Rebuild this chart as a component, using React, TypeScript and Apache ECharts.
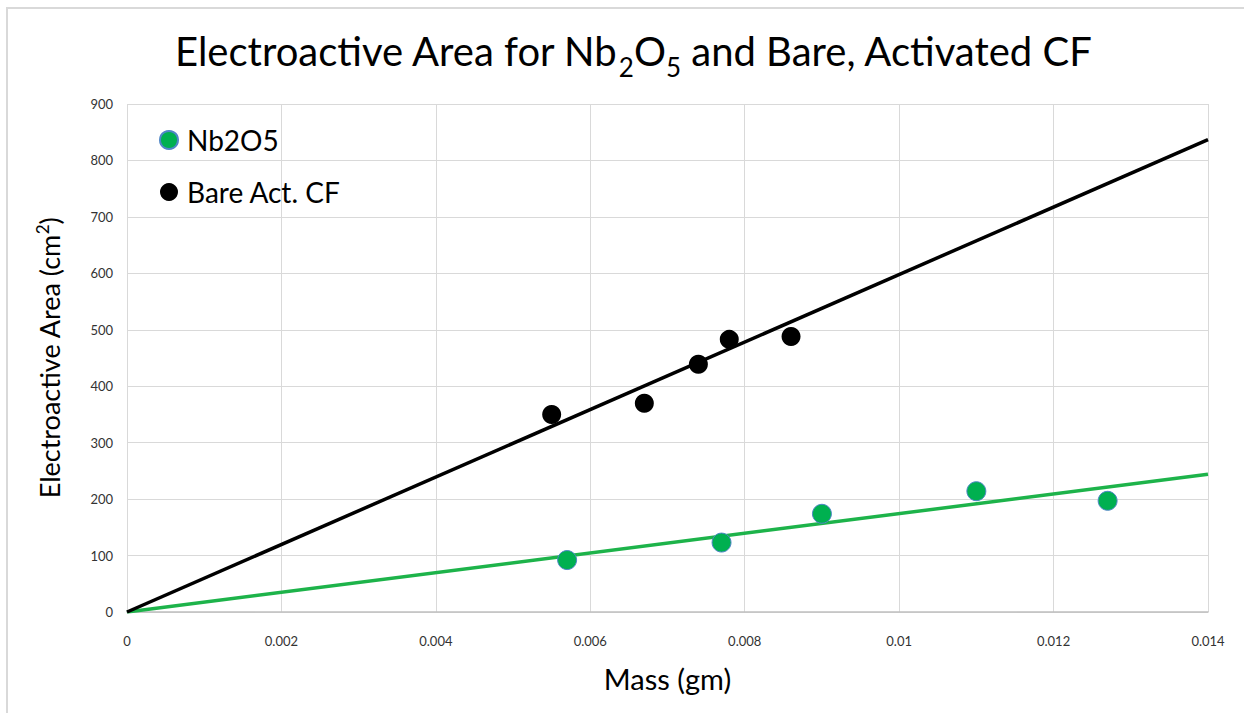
import React, { useEffect, useRef } from "react";
import * as echarts from "echarts";

// Measured electroactive area vs. sample mass
const nb2o5Mass = [0.0057, 0.0077, 0.009, 0.011, 0.0127];
const nb2o5Area = [92, 123, 174, 214, 197];

const bareMass = [0.0055, 0.0067, 0.0074, 0.0078, 0.0086];
const bareArea = [350, 370, 439, 483, 488];

// Linear trend lines (intercept fixed at zero), evaluated at the axis ends
const trendMass = [0, 0.014];
const nb2o5Trend = [0, 244];
const bareTrend = [0, 837];

const xTicks = { min: 0, max: 0.014, interval: 0.002 };
const yTicks = { min: 0, max: 900, interval: 100 };

const FONT = "Lato, 'Open Sans', sans-serif";
const GREEN = "#00b050";

const zip = (xs: number[], ys: number[]) => xs.map((x, i) => [x, ys[i]]);

export default function App() {
  const ref = useRef<HTMLDivElement>(null);

  useEffect(() => {
    document.body.style.margin = "0";
    const chart = echarts.init(ref.current!, null, { renderer: "svg" });
    chart.setOption({
      animation: false,
      backgroundColor: "#ffffff",
      textStyle: { fontFamily: FONT },
      title: {
        text: "Electroactive Area for Nb{sub|2}O{sub|5} and Bare, Activated CF",
        left: 170,
        top: 22,
        textStyle: {
          fontFamily: FONT,
          fontSize: 40,
          fontWeight: "normal",
          color: "#000000",
          lineHeight: 48,
          rich: {
            sub: {
              fontFamily: FONT,
              fontSize: 26,
              color: "#000000",
              padding: [32, 0, 0, 0],
              lineHeight: 48,
            },
          },
        },
      },
      graphic: [
        {
          type: "rect",
          shape: { x: 7, y: 8, width: 1260, height: 730 },
          style: { fill: "none", stroke: "#d9d9d9", lineWidth: 2 },
          silent: true,
        },
      ],
      legend: {
        data: ["Nb2O5", "Bare Act. CF"],
        orient: "vertical",
        left: 154,
        top: 121,
        itemWidth: 18,
        itemHeight: 18,
        itemGap: 24,
        icon: "circle",
        textStyle: { fontFamily: FONT, fontSize: 28, color: "#000000", padding: [0, 0, 0, 4] },
      },
      grid: { left: 127, right: 36, top: 104, bottom: 101 },
      xAxis: {
        type: "value",
        ...xTicks,
        name: "Mass (gm)",
        nameLocation: "middle",
        nameGap: 52,
        nameTextStyle: { fontFamily: FONT, fontSize: 29, color: "#000000" },
        axisLine: { show: true, onZero: false, lineStyle: { color: "#bfbfbf", width: 1.5 } },
        axisTick: { show: false },
        axisLabel: { fontFamily: FONT, fontSize: 13, color: "#333333", margin: 22 },
        splitLine: { show: true, lineStyle: { color: "#d9d9d9", width: 1 } },
      },
      yAxis: {
        type: "value",
        ...yTicks,
        name: "Electroactive Area (cm{sup|2})",
        nameLocation: "middle",
        nameGap: 62,
        nameTextStyle: {
          fontFamily: FONT,
          fontSize: 27,
          color: "#000000",
          rich: {
            sup: { fontFamily: FONT, fontSize: 17, color: "#000000", padding: [0, 0, 14, 0] },
          },
        },
        axisLine: { show: false },
        axisTick: { show: false },
        axisLabel: { fontFamily: FONT, fontSize: 13, color: "#333333", margin: 14 },
        splitLine: { show: true, lineStyle: { color: "#d9d9d9", width: 1 } },
      },
      series: [
        {
          name: "Nb2O5 trend",
          type: "line",
          data: zip(trendMass, nb2o5Trend),
          showSymbol: false,
          lineStyle: { color: "#1db34a", width: 3.5 },
          z: 2,
          silent: true,
        },
        {
          name: "Bare trend",
          type: "line",
          data: zip(trendMass, bareTrend),
          showSymbol: false,
          lineStyle: { color: "#000000", width: 3.5 },
          z: 2,
          silent: true,
        },
        {
          name: "Nb2O5",
          type: "scatter",
          data: zip(nb2o5Mass, nb2o5Area),
          symbol: "circle",
          symbolSize: 19,
          itemStyle: { color: GREEN, opacity: 1, borderColor: "#4f86c6", borderWidth: 1 },
          z: 3,
        },
        {
          name: "Bare Act. CF",
          type: "scatter",
          data: zip(bareMass, bareArea),
          symbol: "circle",
          symbolSize: 19,
          itemStyle: { color: "#000000", opacity: 1 },
          z: 3,
        },
      ],
    });
    return () => chart.dispose();
  }, []);

  return <div ref={ref} style={{ width: 1244, height: 713 }} />;
}
